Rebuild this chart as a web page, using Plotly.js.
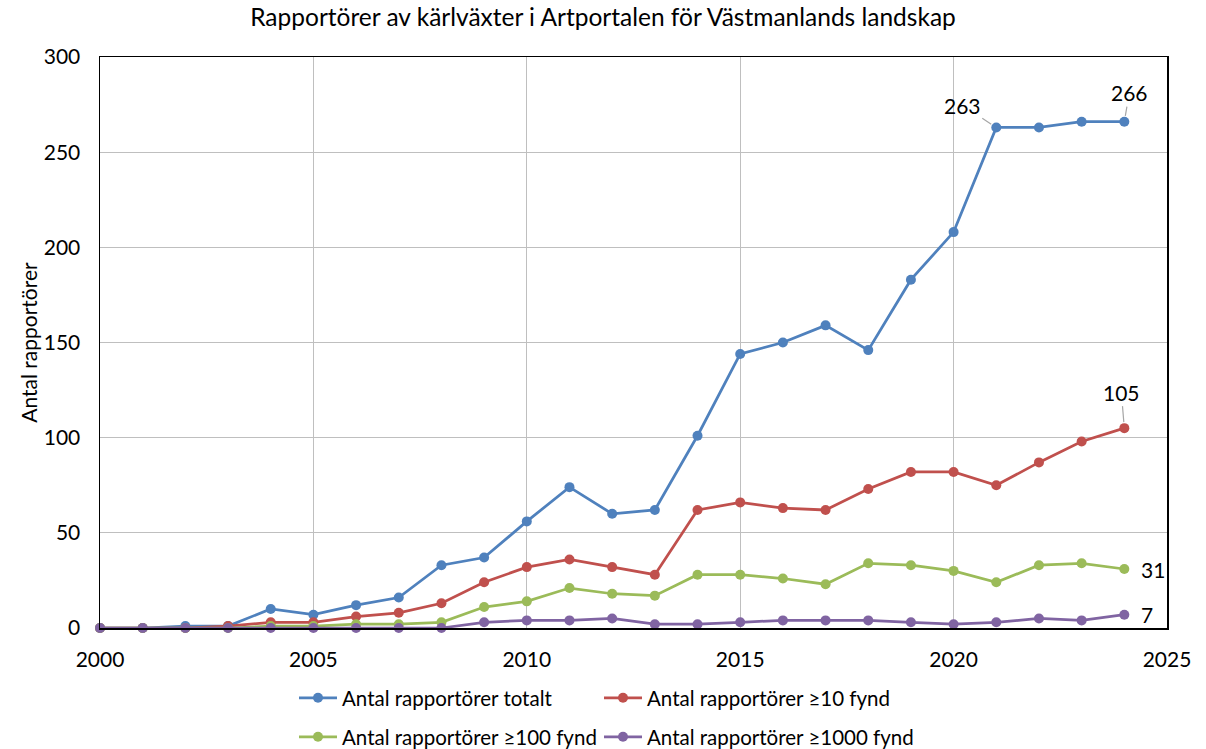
<!DOCTYPE html>
<html>
<head>
<meta charset="utf-8">
<script src="https://cdn.plot.ly/plotly-3.0.1.min.js"></script>
<style>
  html, body { margin: 0; padding: 0; background: #fff; }
  #chart { width: 1206px; height: 749px; }
</style>
</head>
<body>
<div id="chart"></div>
<script>
// Årtal och antal rapportörer per år
const years = [2000, 2001, 2002, 2003, 2004, 2005, 2006, 2007, 2008, 2009, 2010, 2011, 2012,
               2013, 2014, 2015, 2016, 2017, 2018, 2019, 2020, 2021, 2022, 2023, 2024];
const totalt = [0, 0, 1, 1, 10, 7, 12, 16, 33, 37, 56, 74, 60,
                62, 101, 144, 150, 159, 146, 183, 208, 263, 263, 266, 266];
const minst10 = [0, 0, 0, 1, 3, 3, 6, 8, 13, 24, 32, 36, 32,
                 28, 62, 66, 63, 62, 73, 82, 82, 75, 87, 98, 105];
const minst100 = [0, 0, 0, 0, 1, 1, 2, 2, 3, 11, 14, 21, 18,
                  17, 28, 28, 26, 23, 34, 33, 30, 24, 33, 34, 31];
const minst1000 = [0, 0, 0, 0, 0, 0, 0, 0, 0, 3, 4, 4, 5,
                   2, 2, 3, 4, 4, 4, 3, 2, 3, 5, 4, 7];

const seriesNames = [
    'Antal rapportörer totalt',
    'Antal rapportörer ≥10 fynd',
    'Antal rapportörer ≥100 fynd',
    'Antal rapportörer ≥1000 fynd'
];

const FONT = 'Lato, "Open Sans", sans-serif';

// Gemensam funktion för linjerna
function makeTrace(values, name, color, legendId) {
    return {
        x: years,
        y: values,
        name: name,
        type: 'scatter',
        mode: 'lines+markers',
        line: { color: color, width: 2.75 },
        marker: { color: color, size: 10 },
        legend: legendId,
        cliponaxis: false,
        hoverinfo: 'skip'
    };
}

const traces = [
    makeTrace(totalt, seriesNames[0], '#4f81bd', 'legend'),
    makeTrace(minst10, seriesNames[1], '#c0504d', 'legend2'),
    makeTrace(minst100, seriesNames[2], '#9bbb59', 'legend3'),
    makeTrace(minst1000, seriesNames[3], '#8064a2', 'legend4')
];

const last = years.length - 1;
const leader = { showarrow: true, arrowhead: 0, arrowwidth: 1.2, arrowcolor: '#a6a6a6', standoff: 6 };

// Dataetiketter
const annotations = [
    Object.assign({ x: years[21], y: totalt[21], text: String(totalt[21]), ax: -34, ay: -22 }, leader),
    Object.assign({ x: years[last], y: totalt[last], text: String(totalt[last]), ax: 5, ay: -29 }, leader),
    Object.assign({ x: years[last], y: minst10[last], text: String(minst10[last]), ax: -3, ay: -36 }, leader),
    { x: years[last], y: minst100[last], text: String(minst100[last]), showarrow: false, xanchor: 'left', xshift: 15 },
    { x: years[last], y: minst1000[last], text: String(minst1000[last]), showarrow: false, xanchor: 'left', xshift: 15 }
].map(a => Object.assign({ xref: 'x', yref: 'y', font: { size: 21, color: '#000' } }, a));

// En legend per post, två kolumner och två rader
const col1 = 294 / 1206;
const col2 = 599 / 1206;
const row1 = 1 - 698 / 749;
const row2 = 1 - 737 / 749;

function makeLegend(x, y) {
    return {
        orientation: 'h',
        xref: 'container',
        yref: 'container',
        xanchor: 'left',
        yanchor: 'middle',
        x: x,
        y: y,
        font: { size: 20.5, color: '#000', family: FONT },
        bgcolor: 'rgba(0,0,0,0)',
        itemwidth: 38
    };
}

const axisBase = {
    showgrid: true,
    gridcolor: '#bfbfbf',
    gridwidth: 1.3,
    showline: true,
    mirror: true,
    linecolor: '#000',
    linewidth: 1.5,
    zeroline: false,
    ticks: '',
    automargin: false,
    tickfont: { size: 21 },
    fixedrange: true
};

const layout = {
    width: 1206,
    height: 749,
    paper_bgcolor: '#fff',
    plot_bgcolor: '#fff',
    font: { family: FONT, color: '#000', size: 21 },
    title: {
        text: 'Rapportörer av kärlväxter i Artportalen för Västmanlands landskap',
        font: { size: 24.5, color: '#000', family: FONT },
        x: 0.5, xanchor: 'center',
        yref: 'container', y: 0.977, yanchor: 'middle'
    },
    margin: { l: 100, r: 39, t: 57, b: 121 },
    showlegend: true,
    xaxis: Object.assign({}, axisBase, {
        range: [2000, 2025],
        tickvals: [2000, 2005, 2010, 2015, 2020, 2025],
        ticklabelstandoff: 12
    }),
    yaxis: Object.assign({}, axisBase, {
        range: [0, 300],
        tickvals: [0, 50, 100, 150, 200, 250, 300],
        ticklabelstandoff: 14,
        title: { text: 'Antal rapportörer', font: { size: 21 }, standoff: 0 }
    }),
    legend: makeLegend(col1, row1),
    legend2: makeLegend(col2, row1),
    legend3: makeLegend(col1, row2),
    legend4: makeLegend(col2, row2),
    annotations: annotations
};

Plotly.newPlot('chart', traces, layout, { displayModeBar: false, staticPlot: true });
</script>
</body>
</html>
